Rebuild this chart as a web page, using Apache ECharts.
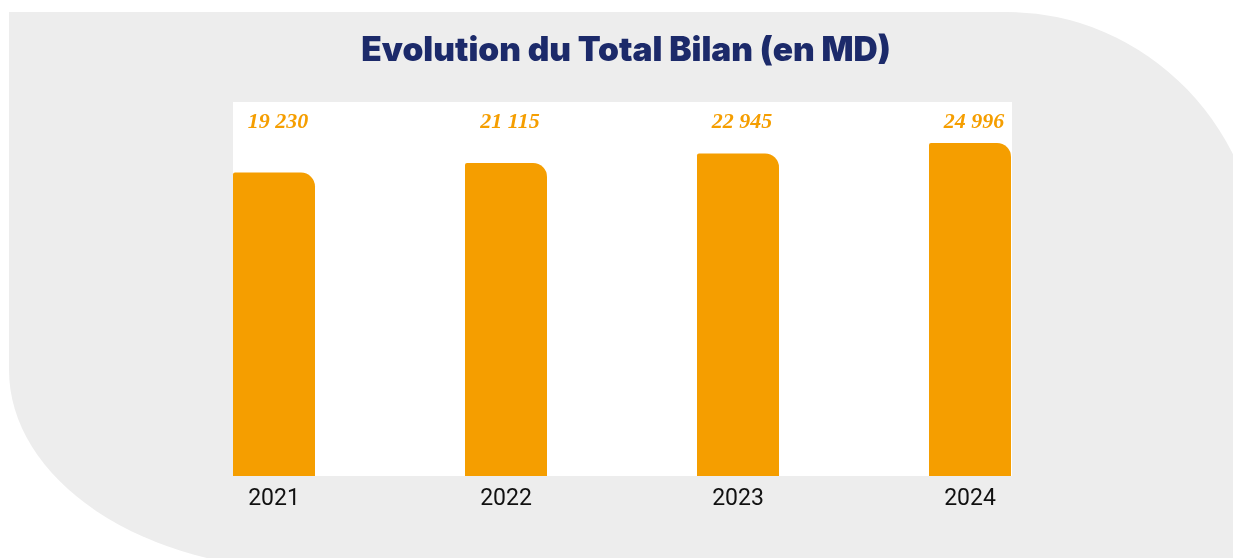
<!DOCTYPE html>
<html>
<head>
<meta charset="utf-8">
<script src="https://cdn.jsdelivr.net/npm/echarts@6/dist/echarts.min.js"></script>
<style>
  html, body { margin: 0; padding: 0; background: #fff; overflow: hidden; }
  #bg {
    position: absolute; left: 9px; top: 12px; width: 1253px; height: 558px;
    background: #ededed;
    border-top-right-radius: 255px 265px;
    border-bottom-left-radius: 300px 200px;
  }
  #chart { position: absolute; left: 0; top: 0; width: 1233px; height: 558px; }
</style>
</head>
<body>
<div id="bg"></div>
<div id="chart"></div>
<script>
const years = ["2021", "2022", "2023", "2024"];
const totalBilan = [19230, 21115, 22945, 24996];

const orange = "#f59e00";
const yMin = -40000;
const yMax = 33000;

const fmt = v => String(v).replace(/\B(?=(\d{3})+(?!\d))/g, " ");

const chart = echarts.init(document.getElementById("chart"));

// bars drawn from the bottom of the axis, label pinned near the top of the plot
function renderBar(params, api) {
  const idx = api.value(0);
  const val = api.value(1);
  const top = api.coord([idx, val]);
  const base = api.coord([idx, yMin]);
  const cs = params.coordSys;
  return {
    type: "group",
    children: [
      {
        type: "rect",
        shape: { x: top[0] - 41, y: top[1], width: 82, height: base[1] - top[1], r: [2, 14, 0, 0] },
        style: { fill: orange }
      },
      {
        type: "text",
        x: top[0] + 4,
        y: cs.y + 20,
        style: {
          text: fmt(val),
          fill: orange,
          font: "italic bold 22px 'Liberation Serif'",
          align: "center",
          verticalAlign: "middle"
        }
      }
    ]
  };
}

chart.setOption({
  backgroundColor: "transparent",
  animation: false,
  graphic: [
    {
      type: "rect",
      z: 0,
      shape: { x: 233, y: 102, width: 779, height: 374 },
      style: { fill: "#fff" }
    },
    {
      type: "text",
      x: 626,
      y: 51,
      style: {
        text: "Evolution du Total Bilan (en MD)",
        fill: "#1c2a6a",
        font: "900 33.5px Inter",
        align: "center",
        verticalAlign: "middle"
      }
    }
  ],
  grid: { left: 158, top: 102, width: 928, height: 374 },
  xAxis: {
    type: "category",
    data: years,
    axisLine: { show: false },
    axisTick: { show: false },
    axisLabel: { margin: 12, fontSize: 23, color: "#111", fontFamily: "Roboto" }
  },
  yAxis: {
    type: "value",
    min: yMin,
    max: yMax,
    show: false,
    splitLine: { show: false }
  },
  series: [
    {
      type: "custom",
      z: 2,
      renderItem: renderBar,
      encode: { x: 0, y: 1 },
      data: years.map((y, i) => [i, totalBilan[i]])
    }
  ]
});
</script>
</body>
</html>
